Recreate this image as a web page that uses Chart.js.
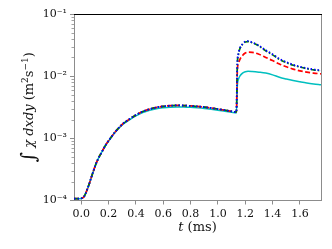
<!DOCTYPE html>
<html>
<head>
<meta charset="utf-8">
<script src="https://cdn.jsdelivr.net/npm/chart.js@4"></script>
<style>
  body { margin: 0; background: #fff; }
  canvas { display: block; }
</style>
</head>
<body>
<canvas id="chart" width="332" height="249"></canvas>
<script>
// time axis (ms), shared by all four curves
const times = [
  -0.053, -0.03, -0.01, 0.0, 0.01, 0.02, 0.03, 0.04, 0.06, 0.08,
  0.10, 0.12, 0.15, 0.18, 0.21, 0.25, 0.30, 0.35, 0.40, 0.45,
  0.50, 0.55, 0.60, 0.65, 0.70, 0.75, 0.80, 0.85, 0.90, 0.95,
  1.00, 1.05, 1.10, 1.135, 1.142, 1.15, 1.16, 1.18, 1.20, 1.22,
  1.25, 1.30, 1.35, 1.40, 1.45, 1.50, 1.55, 1.60, 1.65, 1.70,
  1.754
];

const cyanSolid = [
  1.07e-4, 1.07e-4, 1.07e-4, 1.08e-4, 1.1e-4, 1.15e-4, 1.27e-4, 1.43e-4, 1.9e-4, 2.6e-4,
  3.5e-4, 4.5e-4, 6.0e-4, 7.8e-4, 9.7e-4, 1.26e-3, 1.65e-3, 1.97e-3, 2.3e-3, 2.6e-3,
  2.83e-3, 3.0e-3, 3.1e-3, 3.17e-3, 3.2e-3, 3.19e-3, 3.15e-3, 3.09e-3, 3.02e-3, 2.93e-3,
  2.83e-3, 2.72e-3, 2.62e-3, 2.56e-3, 7.0e-3, 8.9e-3, 1.0e-2, 1.12e-2, 1.18e-2, 1.2e-2,
  1.19e-2, 1.16e-2, 1.12e-2, 1.05e-2, 9.6e-3, 9.0e-3, 8.5e-3, 8.1e-3, 7.75e-3, 7.5e-3,
  7.3e-3
];

const redDashed = [
  1.07e-4, 1.07e-4, 1.07e-4, 1.08e-4, 1.1e-4, 1.15e-4, 1.27e-4, 1.43e-4, 1.9e-4, 2.6e-4,
  3.5e-4, 4.5e-4, 6.0e-4, 7.9e-4, 9.8e-4, 1.28e-3, 1.68e-3, 2.02e-3, 2.38e-3, 2.7e-3,
  2.95e-3, 3.15e-3, 3.27e-3, 3.35e-3, 3.38e-3, 3.37e-3, 3.32e-3, 3.26e-3, 3.18e-3, 3.08e-3,
  2.96e-3, 2.84e-3, 2.72e-3, 2.65e-3, 1.25e-2, 1.6e-2, 1.85e-2, 2.15e-2, 2.35e-2, 2.43e-2,
  2.42e-2, 2.25e-2, 2.0e-2, 1.78e-2, 1.57e-2, 1.42e-2, 1.3e-2, 1.22e-2, 1.16e-2, 1.12e-2,
  1.09e-2
];

const greenDashDot = [
  1.07e-4, 1.07e-4, 1.07e-4, 1.08e-4, 1.1e-4, 1.15e-4, 1.27e-4, 1.43e-4, 1.9e-4, 2.6e-4,
  3.5e-4, 4.5e-4, 6.0e-4, 7.9e-4, 9.8e-4, 1.28e-3, 1.68e-3, 2.02e-3, 2.38e-3, 2.7e-3,
  2.95e-3, 3.15e-3, 3.27e-3, 3.35e-3, 3.38e-3, 3.37e-3, 3.32e-3, 3.26e-3, 3.18e-3, 3.08e-3,
  2.96e-3, 2.84e-3, 2.72e-3, 2.65e-3, 1.55e-2, 2.25e-2, 2.75e-2, 3.25e-2, 3.55e-2, 3.6e-2,
  3.45e-2, 3.05e-2, 2.55e-2, 2.2e-2, 1.86e-2, 1.65e-2, 1.5e-2, 1.4e-2, 1.32e-2, 1.26e-2,
  1.22e-2
];

const blueDotted = [
  1.07e-4, 1.07e-4, 1.07e-4, 1.08e-4, 1.1e-4, 1.15e-4, 1.27e-4, 1.43e-4, 1.9e-4, 2.6e-4,
  3.5e-4, 4.5e-4, 6.0e-4, 7.9e-4, 9.8e-4, 1.28e-3, 1.68e-3, 2.02e-3, 2.38e-3, 2.7e-3,
  2.95e-3, 3.15e-3, 3.27e-3, 3.35e-3, 3.38e-3, 3.37e-3, 3.32e-3, 3.26e-3, 3.18e-3, 3.08e-3,
  2.96e-3, 2.84e-3, 2.72e-3, 2.65e-3, 1.6e-2, 2.3e-2, 2.8e-2, 3.3e-2, 3.6e-2, 3.66e-2,
  3.5e-2, 3.1e-2, 2.6e-2, 2.25e-2, 1.9e-2, 1.68e-2, 1.53e-2, 1.42e-2, 1.34e-2, 1.28e-2,
  1.24e-2
];

// y axis: decades with labels, minor ticks in between
const yMajorTicks = [1e-4, 1e-3, 1e-2, 1e-1];
const yTickLabels = ['10\u207B\u2074', '10\u207B\u00B3', '10\u207B\u00B2', '10\u207B\u00B9'];
const xTickValues = [0.0, 0.2, 0.4, 0.6, 0.8, 1.0, 1.2, 1.4, 1.6];

const axisGray = '#8c8c8c';
const tickFont = { family: 'DejaVu Serif', size: 11 };

function toPoints(ys) {
  return times.map((t, i) => ({ x: t, y: ys[i] }));
}

// y ticks: majors plus 2..9 in every decade
function buildYTicks(scale) {
  const ticks = [];
  yMajorTicks.forEach((m, i) => {
    ticks.push({ value: m, major: true });
    if (i < yMajorTicks.length - 1) {
      for (let k = 2; k <= 9; k++) ticks.push({ value: m * k, major: false });
    }
  });
  scale.ticks = ticks;
}

// titles with mixed italic, extra spines, short minor ticks
const decorations = {
  id: 'decorations',
  afterDraw(chart) {
    const ctx = chart.ctx;
    const area = chart.chartArea;
    const yScale = chart.scales.y;
    ctx.save();

    // minor ticks on the log axis
    ctx.strokeStyle = axisGray;
    ctx.lineWidth = 0.8;
    yScale.ticks.forEach(t => {
      if (t.major) return;
      const py = Math.round(yScale.getPixelForValue(t.value)) + 0.5;
      ctx.beginPath();
      ctx.moveTo(area.left - 2.5, py);
      ctx.lineTo(area.left, py);
      ctx.stroke();
    });

    // right spine gray, top spine black
    ctx.lineWidth = 1;
    ctx.beginPath();
    ctx.moveTo(area.right + 0.5, area.top);
    ctx.lineTo(area.right + 0.5, area.bottom + 0.5);
    ctx.stroke();
    ctx.strokeStyle = '#000';
    ctx.beginPath();
    ctx.moveTo(area.left, area.top + 0.5);
    ctx.lineTo(area.right + 1, area.top + 0.5);
    ctx.stroke();

    // x title: t (ms)
    ctx.fillStyle = '#111';
    ctx.textBaseline = 'alphabetic';
    const xParts = [
      { text: 't', font: 'italic 13px "DejaVu Serif"' },
      { text: ' (ms)', font: '13px "DejaVu Serif"' }
    ];
    drawParts(ctx, xParts, (area.left + area.right) / 2, 231);

    // y title, rotated
    ctx.translate(32.5, (area.top + area.bottom) / 2);
    ctx.rotate(-Math.PI / 2);
    const yParts = [
      { text: '\u222B', font: '20px "DejaVu Serif"', dy: 2 },
      { text: ' \u03C7 ', font: 'italic 13px "DejaVu Serif"' },
      { text: 'dxdy', font: 'italic 13px "DejaVu Serif"' },
      { text: ' (m', font: '13px "DejaVu Serif"' },
      { text: '2', font: '9px "DejaVu Serif"', dy: -5 },
      { text: 's', font: '13px "DejaVu Serif"' },
      { text: '\u22121', font: '9px "DejaVu Serif"', dy: -5 },
      { text: ')', font: '13px "DejaVu Serif"' }
    ];
    drawParts(ctx, yParts, 0, 0);
    ctx.restore();
  }
};

function drawParts(ctx, parts, cx, y) {
  let total = 0;
  parts.forEach(p => { ctx.font = p.font; total += ctx.measureText(p.text).width; });
  let x = cx - total / 2;
  ctx.textAlign = 'left';
  parts.forEach(p => {
    ctx.font = p.font;
    ctx.fillText(p.text, x, y + (p.dy || 0));
    x += ctx.measureText(p.text).width;
  });
}

const seriesStyle = { pointRadius: 0, fill: false, cubicInterpolationMode: 'monotone' };

new Chart(document.getElementById('chart'), {
  type: 'line',
  data: {
    datasets: [
      { ...seriesStyle, data: toPoints(cyanSolid), borderColor: '#00bfbf', borderWidth: 1.5, order: 4 },
      { ...seriesStyle, data: toPoints(redDashed), borderColor: '#ff0000', borderWidth: 1.7, borderDash: [5, 2.5], order: 3 },
      { ...seriesStyle, data: toPoints(greenDashDot), borderColor: '#008000', borderWidth: 1.7, borderDash: [5, 2, 1.5, 2], order: 2 },
      { ...seriesStyle, data: toPoints(blueDotted), borderColor: '#0000ff', borderWidth: 1.8, borderDash: [1.5, 2], order: 1 }
    ]
  },
  options: {
    responsive: false,
    animation: false,
    events: [],
    layout: { padding: { top: 14, right: 11, left: 0, bottom: 0 } },
    plugins: { legend: { display: false }, tooltip: { enabled: false } },
    scales: {
      x: {
        type: 'linear',
        min: -0.053,
        max: 1.754,
        afterFit(scale) { scale.height = 48.5; },
        afterBuildTicks(scale) { scale.ticks = xTickValues.map(v => ({ value: v })); },
        ticks: {
          autoSkip: false,
          maxRotation: 0,
          padding: 3,
          color: '#111',
          font: tickFont,
          callback: v => v.toFixed(1)
        },
        grid: { display: true, drawOnChartArea: false, tickLength: 4, tickColor: axisGray },
        border: { display: true, color: axisGray, width: 1 }
      },
      y: {
        type: 'logarithmic',
        min: 1e-4,
        max: 1e-1,
        afterFit(scale) { scale.width = 74; },
        afterBuildTicks: buildYTicks,
        ticks: {
          autoSkip: false,
          padding: 3,
          color: '#111',
          font: tickFont,
          callback: function (v) {
            const i = yMajorTicks.findIndex(m => Math.abs(m - v) / m < 1e-6);
            return i >= 0 ? yTickLabels[i] : '';
          }
        },
        grid: {
          display: true,
          drawOnChartArea: false,
          tickLength: 4,
          tickColor: c => (c.tick && c.tick.major ? axisGray : 'rgba(0,0,0,0)')
        },
        border: { display: true, color: axisGray, width: 1 }
      }
    }
  },
  plugins: [decorations]
});
</script>
</body>
</html>
